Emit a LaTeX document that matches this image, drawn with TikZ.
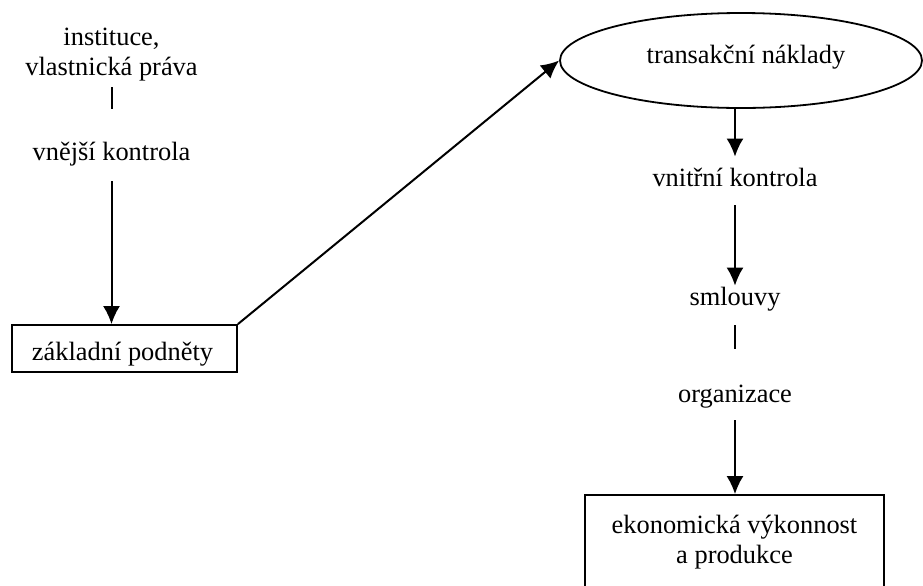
\documentclass[tikz,border=0pt]{standalone}
\usepackage{fontspec}
\setmainfont{Liberation Serif}
\usetikzlibrary{arrows.meta,shapes.geometric}
\begin{document}
\begin{tikzpicture}[x=0.5pt,y=-0.5pt,
  every node/.style={font=\fontsize{13.2pt}{15pt}\selectfont},
  lbl/.style={inner sep=0pt, text height=9pt, text depth=3pt},
  boxnode/.style={draw, line width=0.9pt, rectangle, inner sep=0pt},
  conn/.style={line width=1pt},
  arr/.style={line width=1pt, -{Latex[length=9pt,width=8.5pt]}}]
\useasboundingbox (0,0) rectangle (923,585);
\clip (0,0) rectangle (923,585);
% left column
\node[inner sep=0pt, align=center] (inst) at (111.5,54.5) {instituce,\\vlastnická práva};
\node[lbl, anchor=base] (vk) at (111.5,160) {vnější kontrola};
\node[boxnode, minimum width=112.5pt, minimum height=23.5pt] (zp) at (124.5,348.5) {};
\node[lbl, anchor=base] (zpt) at (122.5,360) {základní podněty};
% right column
\node[draw, ellipse, line width=0.9pt, inner sep=0pt, minimum width=181pt, minimum height=47.5pt] (tn) at (741,60.5) {};
\node[lbl, anchor=base] (tnt) at (746,63) {transakční náklady};
\node[lbl, anchor=base] (vi) at (735,186) {vnitřní kontrola};
\node[lbl, anchor=base] (sm) at (735,305) {smlouvy};
\node[lbl, anchor=base] (org) at (735,402) {organizace};
\node[boxnode, align=center, minimum width=149.5pt, minimum height=47pt] (ek) at (734.5,542) {ekonomická výkonnost\\a produkce};
% connectors
\draw[conn, shorten <=3pt, shorten >=16.5pt] (inst.south) -- (vk.north);
\draw[arr, shorten <=7.5pt] (vk.south) -- (zp.north -| vk.south);
\draw[arr] (zp.north east) -- (tn.west);
\draw[arr, shorten >=5.5pt] (tn.south -| vi.north) -- (vi.north);
\draw[arr, shorten <=6.5pt, shorten >=0.5pt] (vi.south) -- (sm.north);
\draw[conn, shorten <=7pt, shorten >=17.5pt] (sm.south) -- (org.north);
\draw[arr, shorten <=6pt] (org.south) -- (ek.north -| org.south);
\end{tikzpicture}
\end{document}
